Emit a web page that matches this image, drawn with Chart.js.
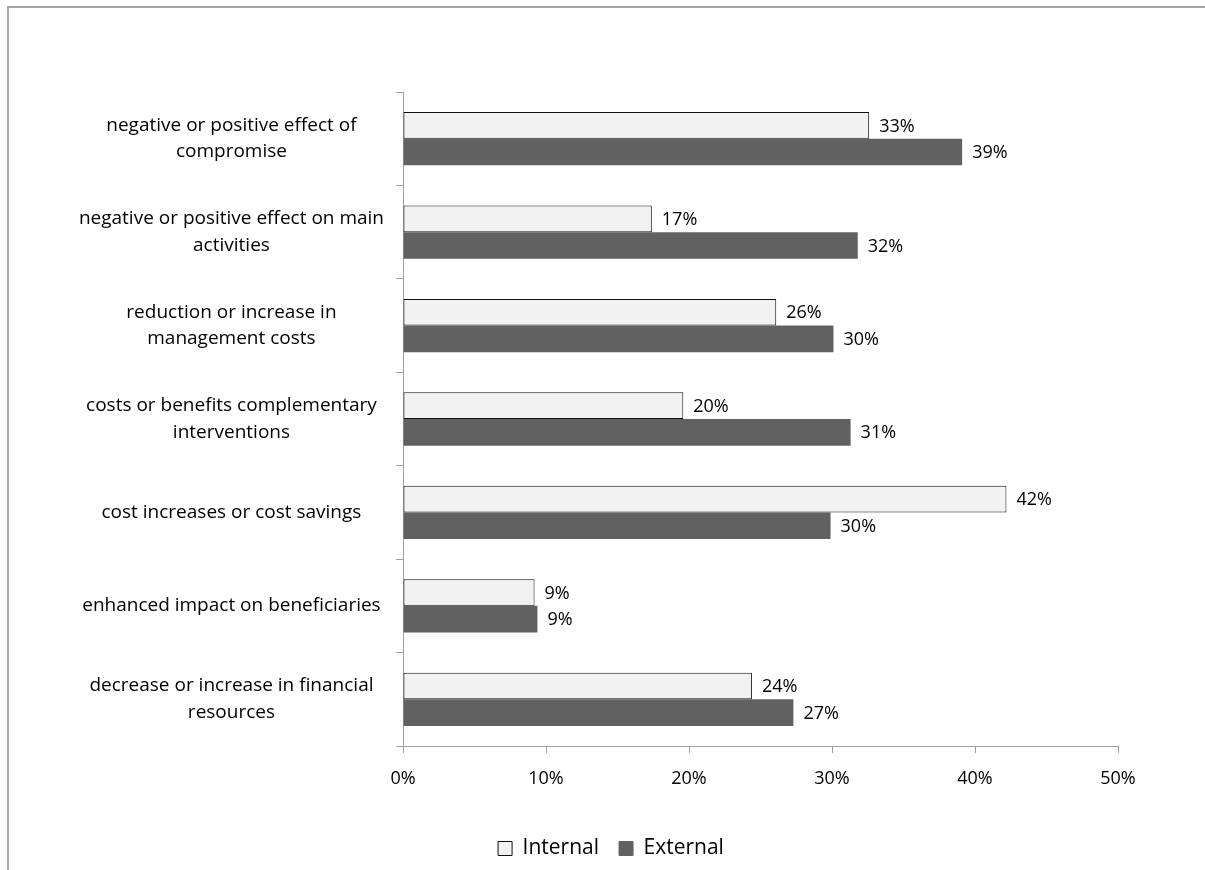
<!DOCTYPE html>
<html>
<head>
<meta charset="utf-8">
<script src="https://cdn.jsdelivr.net/npm/chart.js@4.4.1/dist/chart.umd.min.js"></script>
<style>
  html, body { margin: 0; padding: 0; background: #ffffff; overflow: hidden; }
  #frame { position: absolute; left: 7px; top: 6px; width: 1400px; height: 1000px; border: 2px solid #a6a6a6; box-sizing: border-box; }
  #wrap { position: absolute; left: 0; top: 0; width: 1205px; height: 870px; }
</style>
</head>
<body>
<div id="frame"></div>
<div id="wrap"><canvas id="c" width="1205" height="870"></canvas></div>
<script>
const categories = [
  ['negative or positive effect of', 'compromise'],
  ['negative or positive effect on main', 'activities'],
  ['reduction or increase in', 'management costs'],
  ['costs or benefits complementary', 'interventions'],
  'cost increases or cost savings',
  'enhanced impact on beneficiaries',
  ['decrease or increase in financial', 'resources']
];
const internalValues = [32.6, 17.4, 26.1, 19.6, 42.2, 9.2, 24.4];
const externalValues = [39.1, 31.8, 30.1, 31.3, 29.9, 9.4, 27.3];
const xTicks = [0, 10, 20, 30, 40, 50];

const FONT = "'Open Sans', 'Noto Sans', sans-serif";
const AXIS_GRAY = '#a0a0a0';
const LEGEND_SHIFT = 52;

const valueLabels = {
  id: 'valueLabels',
  afterDatasetsDraw(chart) {
    const ctx = chart.ctx;
    ctx.save();
    ctx.font = '18px ' + FONT;
    ctx.fillStyle = '#000000';
    ctx.textAlign = 'left';
    ctx.textBaseline = 'middle';
    chart.data.datasets.forEach((ds, di) => {
      const meta = chart.getDatasetMeta(di);
      meta.data.forEach((bar, i) => {
        ctx.fillText(Math.round(ds.data[i]) + '%', bar.x + 10, bar.y + 1);
      });
    });
    ctx.restore();
  }
};

const legendShift = {
  id: 'legendShift',
  afterLayout(chart) {
    if (chart.legend) {
      chart.legend.left += LEGEND_SHIFT;
      chart.legend.right += LEGEND_SHIFT;
    }
  }
};

new Chart(document.getElementById('c'), {
  type: 'bar',
  data: {
    labels: categories,
    datasets: [
      {
        label: 'Internal',
        data: internalValues,
        backgroundColor: '#f2f2f2',
        borderColor: '#111111',
        borderWidth: 1,
        borderSkipped: false,
        categoryPercentage: 0.57,
        barPercentage: 1.0
      },
      {
        label: 'External',
        data: externalValues,
        backgroundColor: '#616161',
        borderWidth: 0,
        categoryPercentage: 0.57,
        barPercentage: 1.0
      }
    ]
  },
  options: {
    indexAxis: 'y',
    responsive: false,
    animation: false,
    layout: { padding: { left: 0, right: 87, top: 92, bottom: 1 } },
    plugins: {
      tooltip: { enabled: false },
      legend: {
        position: 'bottom',
        labels: {
          font: { family: FONT, size: 21 },
          color: '#000000',
          boxWidth: 14,
          boxHeight: 14,
          padding: 20,
          generateLabels(chart) {
            return chart.data.datasets.map((ds, i) => ({
              text: ds.label,
              fillStyle: ds.backgroundColor,
              strokeStyle: i === 0 ? '#111111' : ds.backgroundColor,
              lineWidth: 1,
              hidden: false,
              datasetIndex: i,
              fontColor: '#000000'
            }));
          }
        }
      }
    },
    scales: {
      x: {
        type: 'linear',
        min: 0,
        max: 50,
        afterBuildTicks(scale) { scale.ticks = xTicks.map(v => ({ value: v })); },
        afterFit(scale) { scale.height = 72; },
        ticks: {
          font: { family: FONT, size: 18 },
          color: '#000000',
          padding: 15,
          callback: v => v + '%'
        },
        grid: { drawOnChartArea: false, drawTicks: true, tickLength: 7, color: AXIS_GRAY, lineWidth: 1 },
        border: { display: true, color: AXIS_GRAY, width: 1 }
      },
      y: {
        type: 'category',
        afterFit(scale) { scale.width = 403; },
        ticks: {
          font: { family: FONT, size: 19, lineHeight: 1.4 },
          color: '#000000',
          crossAlign: 'center',
          padding: 12
        },
        grid: { offset: true, drawOnChartArea: false, drawTicks: true, tickLength: 7, color: AXIS_GRAY, lineWidth: 1 },
        border: { display: true, color: AXIS_GRAY, width: 1 }
      }
    }
  },
  plugins: [valueLabels, legendShift]
});
</script>
</body>
</html>
